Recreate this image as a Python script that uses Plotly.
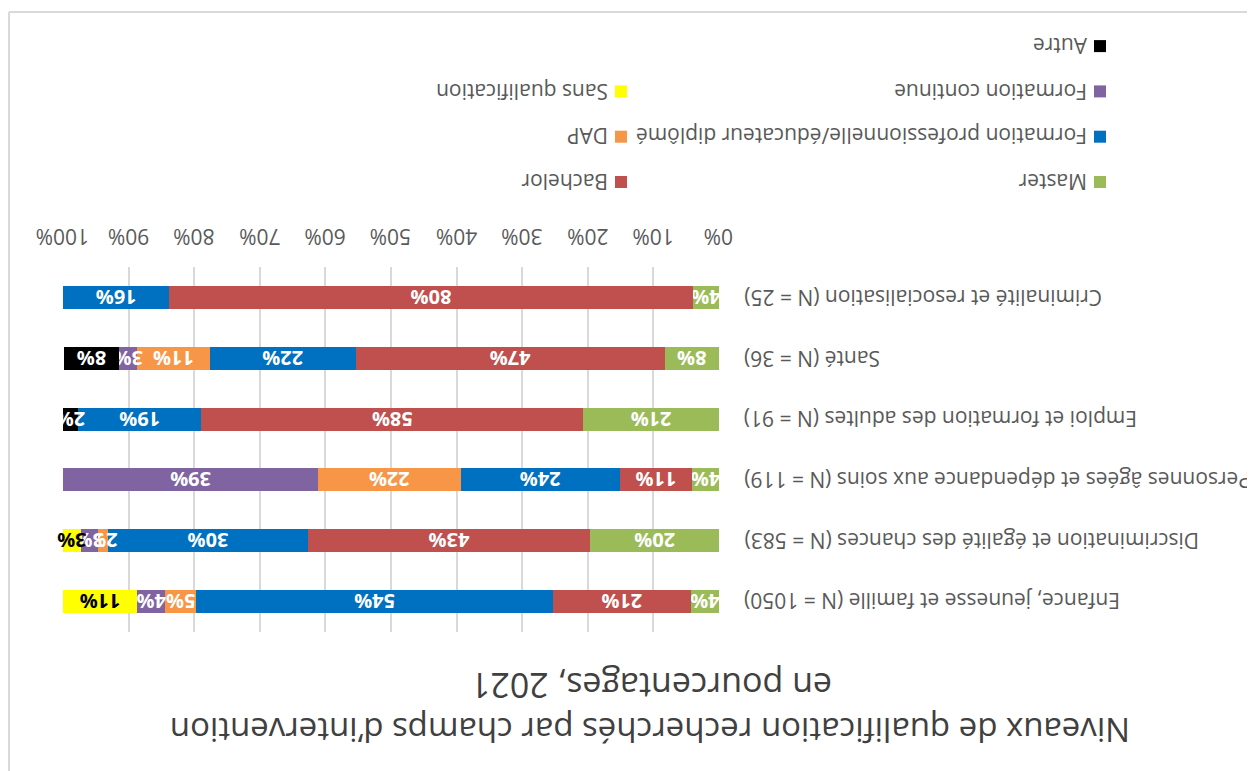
import plotly.graph_objects as go

# ---------------- data ----------------
categories = [
    "Enfance, jeunesse et famille (N = 1050)",
    "Discrimination et égalité des chances (N = 583)",
    "Personnes âgées et dépendance aux soins (N = 119)",
    "Emploi et formation des adultes (N = 91)",
    "Santé (N = 36)",
    "Criminalité et resocialisation (N = 25)",
]
series_names = [
    "Master",
    "Bachelor",
    "Formation professionnelle/éducateur diplômé",
    "DAP",
    "Formation continue",
    "Sans qualification",
    "Autre",
]
master = [4.3, 19.6, 4.1, 20.7, 8.3, 4.0]
bachelor = [21.0, 43.1, 11.0, 58.2, 47.1, 79.8]
formation_pro = [54.4, 30.4, 24.3, 18.8, 22.2, 16.2]
dap = [4.7, 1.6, 21.7, 0, 11.1, 0]
formation_continue = [4.3, 2.6, 38.9, 0, 2.7, 0]
sans_qualification = [11.3, 2.7, 0, 0, 0, 0]
autre = [0, 0, 0, 2.3, 8.5, 0]
series_values = [master, bachelor, formation_pro, dap, formation_continue,
                 sans_qualification, autre]
colors = ["#9BBB59", "#C0504D", "#0070C0", "#F79646", "#8064A2", "#FFFF00", "#000000"]
label_colors = ["white", "white", "white", "white", "white", "black", "white"]
x_ticks = list(range(0, 101, 10))
x_tick_labels = [f"{t}%" for t in x_ticks]
title_line1 = "Niveaux de qualification recherchés par champs d’intervention"
title_line2 = "en pourcentages, 2021"

# ---------------- geometry helpers (screen pixels -> paper) ----------------
OFF = 8                      # page body margin
W, H = 1255 - OFF, 771 - OFF
L, R, T, B = 63, 719, 267, 632   # plot area in screen pixels


def px(x):
    return (x - L) / (R - L)


def py(y):
    return (B - y) / (B - T)


FONT = "Open Sans"
GREY = "#595959"

fig = go.Figure()
for name, vals, col, lc in zip(series_names, series_values, colors, label_colors):
    fig.add_trace(go.Bar(
        y=categories, x=vals, name=name, orientation="h",
        marker=dict(color=col, line=dict(width=0)),
        text=[f"{v:.0f}%" if v > 0 else "" for v in vals],
        textposition="inside", insidetextanchor="middle",
        textangle=180, constraintext="none", cliponaxis=False,
        textfont=dict(family=FONT, size=20, color=lc, weight="bold"),
        showlegend=False,
    ))

annotations = []
# x tick labels (rotated), placed on the x axis scale
for t, lab in zip(x_ticks, x_tick_labels):
    annotations.append(dict(
        x=t, xref="x", y=py(237), yref="paper", xanchor="center", yanchor="middle",
        text=lab, showarrow=False, textangle=180,
        font=dict(family=FONT, size=21, color=GREY),
    ))
# category labels (rotated)
for c in categories:
    annotations.append(dict(
        x=px(742), xref="paper", y=c, yref="y", xanchor="left", yanchor="middle",
        text=c, showarrow=False, textangle=180,
        font=dict(family=FONT, size=21, color=GREY),
    ))
# title (rotated)
annotations.append(dict(x=px(650), y=py(731), xref="paper", yref="paper",
                        text=title_line1, showarrow=False, textangle=180,
                        xanchor="center", yanchor="middle",
                        font=dict(family=FONT, size=33, color="#404040")))
annotations.append(dict(x=px(652), y=py(686), xref="paper", yref="paper",
                        text=title_line2, showarrow=False, textangle=180,
                        xanchor="center", yanchor="middle",
                        font=dict(family=FONT, size=34, color="#404040")))

# legend (rotated, built manually)
shapes = []
col_square_x = [1100, 621]
col_text_x = [1089, 610]
row_y0 = 182
row_step = 45.3
sq = 12
for i, (name, col) in enumerate(zip(series_names, colors)):
    c, r = i % 2, i // 2
    yc = row_y0 - row_step * r
    shapes.append(dict(type="rect", xref="paper", yref="paper",
                       x0=px(col_square_x[c] - sq / 2), x1=px(col_square_x[c] + sq / 2),
                       y0=py(yc + sq / 2), y1=py(yc - sq / 2),
                       fillcolor=col, line=dict(width=0)))
    annotations.append(dict(x=px(col_text_x[c]), y=py(yc), xref="paper", yref="paper",
                            text=name, showarrow=False, textangle=180,
                            xanchor="right", yanchor="middle",
                            font=dict(family=FONT, size=21, color=GREY)))

# outer border (left & top edges visible)
shapes.append(dict(type="line", xref="paper", yref="paper",
                   x0=px(9), x1=px(9), y0=py(12), y1=py(800),
                   line=dict(color="#d9d9d9", width=2)))
shapes.append(dict(type="line", xref="paper", yref="paper",
                   x0=px(9), x1=px(1300), y0=py(12), y1=py(12),
                   line=dict(color="#d9d9d9", width=2)))

fig.update_layout(
    width=W, height=H,
    margin=dict(l=L - OFF, r=W - (R - OFF), t=T - OFF, b=H - (B - OFF)),
    barmode="stack", bargap=0.62,
    paper_bgcolor="white", plot_bgcolor="white",
    font=dict(family=FONT, color=GREY),
    xaxis=dict(range=[100, 0], tickvals=x_ticks, showticklabels=False,
               side="top", showgrid=True, gridcolor="#d9d9d9",
               gridwidth=1.5, zeroline=False, showline=False, ticks="",
               fixedrange=True),
    yaxis=dict(categoryorder="array", categoryarray=categories, showticklabels=False,
               showgrid=False, zeroline=False, showline=False, fixedrange=True),
    annotations=annotations, shapes=shapes,
)

fig.write_html("out.html")
